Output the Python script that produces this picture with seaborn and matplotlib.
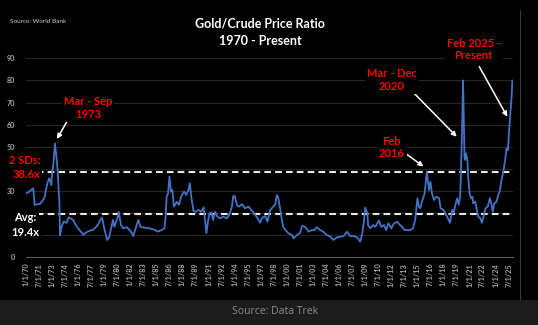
import matplotlib
matplotlib.use("Agg")
import matplotlib.pyplot as plt
import seaborn as sns
import pandas as pd
from matplotlib.patches import Rectangle
from matplotlib.lines import Line2D

# ---------------- data ----------------
months = [
    "1970-01", "1970-05", "1970-08", "1970-11", "1971-01", "1971-05", "1971-08", "1971-11",
    "1972-03", "1972-05", "1972-07", "1972-09", "1972-10", "1972-12", "1973-01", "1973-03",
    "1973-05", "1973-07", "1973-09", "1973-10", "1973-11", "1973-12", "1974-02", "1974-05",
    "1974-09", "1974-12", "1975-03", "1975-06", "1975-09", "1976-01", "1976-05", "1976-08",
    "1976-11", "1977-02", "1977-05", "1977-09", "1978-01", "1978-04", "1978-07", "1978-10",
    "1979-01", "1979-03", "1979-05", "1979-08", "1979-11", "1980-01", "1980-03", "1980-07",
    "1980-09", "1980-12", "1981-03", "1981-08", "1981-12", "1982-03", "1982-05", "1982-09",
    "1982-12", "1983-03", "1983-09", "1984-04", "1984-11", "1985-03", "1985-08", "1985-12",
    "1986-02", "1986-03", "1986-05", "1986-07", "1986-09", "1986-11", "1987-01", "1987-05",
    "1987-08", "1987-11", "1988-03", "1988-06", "1988-09", "1988-11", "1989-01", "1989-04",
    "1989-07", "1989-11", "1990-03", "1990-06", "1990-08", "1990-10", "1990-12", "1991-02",
    "1991-05", "1991-07", "1991-10", "1992-01", "1992-05", "1992-09", "1993-02", "1993-06",
    "1993-09", "1993-11", "1994-01", "1994-04", "1994-07", "1994-11", "1995-03", "1995-08",
    "1995-12", "1996-04", "1996-07", "1996-12", "1997-02", "1997-07", "1997-10", "1998-02",
    "1998-06", "1998-09", "1998-11", "1999-01", "1999-04", "1999-06", "1999-08", "1999-11",
    "2000-03", "2000-08", "2000-10", "2001-03", "2001-07", "2001-10", "2002-02", "2002-07",
    "2002-11", "2003-03", "2003-06", "2003-11", "2004-03", "2004-08", "2005-01", "2005-05",
    "2005-10", "2006-03", "2006-07", "2006-12", "2007-04", "2007-09", "2008-02", "2008-06",
    "2008-09", "2008-11", "2009-01", "2009-04", "2009-05", "2009-08", "2009-12", "2010-03",
    "2010-08", "2010-11", "2011-03", "2011-06", "2011-09", "2012-01", "2012-04", "2012-09",
    "2013-01", "2013-04", "2013-07", "2013-11", "2014-03", "2014-07", "2014-10", "2015-01",
    "2015-03", "2015-05", "2015-08", "2015-11", "2016-02", "2016-05", "2016-07", "2016-09",
    "2016-12", "2017-03", "2017-07", "2017-09", "2018-01", "2018-04", "2018-07", "2018-10",
    "2019-01", "2019-03", "2019-06", "2019-08", "2019-10", "2019-12", "2020-01", "2020-03",
    "2020-04", "2020-06", "2020-07", "2020-08", "2020-10", "2020-11", "2021-01", "2021-03",
    "2021-05", "2021-06", "2021-09", "2021-11", "2022-01", "2022-04", "2022-06", "2022-09",
    "2022-11", "2023-02", "2023-05", "2023-07", "2023-09", "2023-11", "2024-02", "2024-04",
    "2024-07", "2024-09", "2024-12", "2025-02", "2025-04", "2025-06", "2025-07", "2025-09",
    "2025-11", "2025-12",
]
ratio = [
    28.9, 29.5, 30.4, 31.2, 23.7, 24.0, 24.1, 25.1,
    27.4, 31.2, 34.0, 35.7, 35.0, 32.7, 38.0, 42.5,
    51.5, 45.5, 38.0, 30.4, 25.9, 9.8, 13.8, 16.1,
    15.6, 18.1, 17.5, 16.9, 15.0, 13.1, 11.5, 10.1,
    11.0, 11.6, 12.0, 12.3, 13.5, 14.6, 16.5, 18.0,
    13.1, 10.5, 7.8, 9.3, 13.8, 16.9, 13.8, 17.6,
    20.6, 14.6, 13.1, 13.6, 12.3, 11.0, 9.6, 13.8,
    16.9, 13.8, 13.4, 13.1, 12.3, 11.6, 12.3, 13.1,
    19.9, 27.4, 28.9, 36.5, 29.7, 30.4, 22.9, 25.1,
    23.7, 27.4, 29.7, 28.2, 30.4, 33.5, 27.4, 21.0,
    20.6, 21.4, 20.6, 22.6, 16.9, 10.9, 16.1, 19.9,
    20.2, 16.9, 20.6, 18.4, 17.6, 18.4, 17.6, 19.6,
    22.9, 27.7, 27.7, 23.7, 22.9, 24.1, 22.2, 22.9,
    21.4, 19.9, 18.4, 15.6, 17.6, 18.7, 16.1, 21.4,
    22.9, 24.0, 28.2, 27.0, 21.4, 16.9, 13.8, 12.3,
    10.9, 10.1, 8.6, 10.1, 10.9, 14.2, 13.8, 11.6,
    12.3, 12.3, 13.6, 12.3, 11.6, 10.1, 9.3, 7.8,
    9.0, 9.3, 9.6, 11.6, 9.6, 9.6, 9.0, 7.1,
    10.9, 16.0, 22.5, 19.9, 14.6, 13.1, 14.6, 13.8,
    16.6, 13.8, 14.6, 12.3, 15.4, 13.1, 15.1, 16.1,
    14.6, 13.8, 12.3, 12.3, 12.3, 13.1, 16.9, 26.7,
    22.9, 22.2, 25.9, 28.9, 38.7, 30.4, 34.2, 28.9,
    25.9, 27.4, 26.7, 22.2, 21.4, 19.5, 17.8, 15.6,
    21.4, 19.9, 24.4, 26.7, 23.7, 27.4, 36.5, 63.6,
    80.0, 45.5, 44.0, 47.0, 44.0, 36.5, 28.9, 26.7,
    27.4, 24.4, 25.1, 21.4, 18.4, 17.6, 15.6, 19.1,
    22.2, 22.9, 26.7, 24.4, 20.6, 24.4, 25.1, 27.4,
    30.4, 35.0, 39.5, 44.0, 49.3, 48.5, 54.5, 64.4,
    72.6, 80.0,
]
avg_ratio = 19.4
sd2_ratio = 38.6
y_ticks = [0, 10, 20, 30, 40, 50, 60, 70, 80, 90]
# labels at 10, 20 and 40 are hidden behind the Avg / 2 SDs notes in the reference
y_tick_labels = ["0", "", "", "30", "", "50", "60", "70", "80", "90"]
tick_labels = [
    "1/1/70", "7/1/71", "1/1/73", "7/1/74", "1/1/76", "7/1/77", "1/1/79", "7/1/80",
    "1/1/82", "7/1/83", "1/1/85", "7/1/86", "1/1/88", "7/1/89", "1/1/91", "7/1/92",
    "1/1/94", "7/1/95", "1/1/97", "7/1/98", "1/1/00", "7/1/01", "1/1/03", "7/1/04",
    "1/1/06", "7/1/07", "1/1/09", "7/1/10", "1/1/12", "7/1/13", "1/1/15", "7/1/16",
    "1/1/18", "7/1/19", "1/1/21", "7/1/22", "1/1/24", "7/1/25",
]

df = pd.DataFrame({"date": pd.to_datetime(months, format="%Y-%m"), "ratio": ratio})
tick_dates = pd.to_datetime(tick_labels, format="%m/%d/%y")

# ---------------- figure ----------------
sns.set_style("dark")
W, H = 538, 325
fig = plt.figure(figsize=(W / 100, H / 100), dpi=100)
fig.patch.set_facecolor("black")
FONT = ["Lato", "DejaVu Sans"]


def fx(x):
    return x / W


def fy(y):
    return (H - y) / H


ax = fig.add_axes([fx(26), fy(257.3), fx(512.7) - fx(26), fy(58.3) - fy(257.3)])
ax.set_facecolor("black")

sns.lineplot(data=df, x="date", y="ratio", ax=ax, color="#4472C4", linewidth=1.3, zorder=4)

ax.set_ylim(0, 90)
ax.set_xlim(pd.Timestamp("1970-01-01"), pd.Timestamp("2025-12-16"))
ax.set_yticks(y_ticks)
ax.set_xticks(tick_dates)
ax.set_xticklabels(tick_labels, rotation=90, fontsize=5.2, color="#a6a6a6",
                   family=FONT, fontweight="bold")
ax.set_yticklabels(y_tick_labels, fontsize=5.2, color="#a6a6a6",
                   family=FONT, fontweight="bold")
ax.tick_params(axis="y", length=0, pad=8)
ax.tick_params(axis="x", length=2, width=0.6, color="#595959", pad=2)
ax.set_xlabel("")
ax.set_ylabel("")
ax.grid(axis="y", color="#262626", linewidth=0.8)
ax.grid(axis="x", visible=False)
for side in ["top", "right", "left"]:
    ax.spines[side].set_visible(False)
ax.spines["bottom"].set_color("#595959")
ax.spines["bottom"].set_linewidth(0.8)

for val in (sd2_ratio, avg_ratio):
    ax.axhline(val, color="#e8e8e8", linewidth=1.5, dashes=(3.2, 2.0), zorder=3)

# ---------------- texts ----------------
fig.text(fx(260), fy(24), "Gold/Crude Price Ratio", ha="center", va="center",
         color="white", fontsize=9, fontweight="bold", family=FONT)
fig.text(fx(260), fy(41), "1970 - Present", ha="center", va="center",
         color="white", fontsize=9, fontweight="bold", family=FONT)
fig.text(fx(10), fy(21.7), "Source: World Bank", ha="left", va="center",
         color="#cfcfcf", fontsize=4.6, family=FONT)

box = dict(facecolor="black", edgecolor="none", pad=1.5)
red = "#ff0000"
lab = dict(ha="center", va="center", fontsize=8, fontweight="bold", family=FONT,
           linespacing=1.15, zorder=10)

fig.text(fx(88), fy(108), "Mar - Sep\n1973", color=red, bbox=box, **lab)
fig.text(fx(391.7), fy(80), "Mar - Dec\n2020", color=red, bbox=box, **lab)
fig.text(fx(391.7), fy(147.5), "Feb\n2016", color=red, bbox=box, **lab)
fig.text(fx(473.8), fy(49.5), "Feb 2025 -\nPresent", color=red, bbox=box, **lab)
fig.text(fx(25.3), fy(160), "2 SDs:", color=red, bbox=box, **lab)
fig.text(fx(26), fy(174.3), "38.6x", color=red, bbox=box, **lab)
fig.text(fx(25.3), fy(217.7), "Avg:", color="white", bbox=box, **lab)
fig.text(fx(25.5), fy(232.3), "19.4x", color="white", bbox=box, **lab)

arrows = [((69.3, 117.3), (57, 139)),
          ((408.3, 87.3), (456.7, 136.7)),
          ((406.7, 154.3), (423.5, 166.5)),
          ((479.3, 66.7), (507.3, 116.7))]
for (tx, ty), (hx, hy) in arrows:
    fig.add_artist(matplotlib.text.Annotation(
        "", xy=(fx(hx), fy(hy)), xytext=(fx(tx), fy(ty)),
        xycoords="figure fraction", textcoords="figure fraction",
        arrowprops=dict(arrowstyle="-|>", color="white", lw=1.1,
                        mutation_scale=7, shrinkA=0, shrinkB=0)))

# right border line and footer
fig.add_artist(Line2D([fx(520), fx(520)], [fy(10), fy(300)], color="#3a3a3a",
                      linewidth=0.8, transform=fig.transFigure))
fig.add_artist(Rectangle((0, 0), 1, fy(300), transform=fig.transFigure,
                         facecolor="#1c1c1c", edgecolor="none", zorder=0))
fig.text(fx(275), fy(311), "Source: Data Trek", ha="center", va="center",
         color="#8a8a8a", fontsize=7.5, family=["Open Sans", "DejaVu Sans"])

fig.savefig("out.png", dpi=100, facecolor=fig.get_facecolor())
